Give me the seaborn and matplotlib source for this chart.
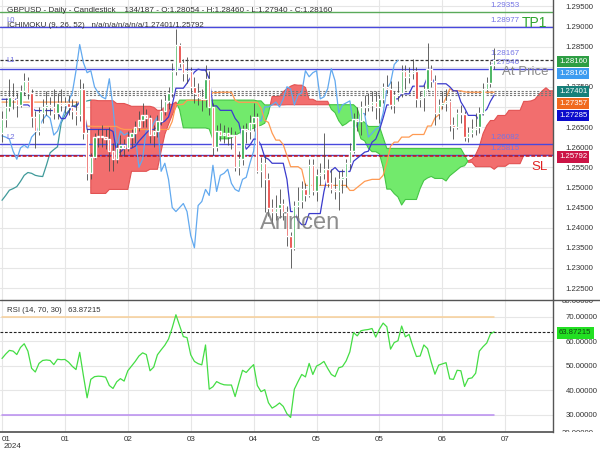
import numpy as np
import pandas as pd
import matplotlib
matplotlib.use("Agg")
import matplotlib.pyplot as plt
import seaborn as sns
from matplotlib.lines import Line2D
from matplotlib.transforms import Bbox

# ---------------- data ----------------
opens = [1.2635, 1.2670, 1.2700, 1.2725, 1.2720, 1.2705, 1.2740, 1.2765, 1.2735, 1.2675,
         1.2640, 1.2685, 1.2700, 1.2705, 1.2700, 1.2685, 1.2710, 1.2705, 1.2710, 1.2700,
         1.2690, 1.2680, 1.2745, 1.2635, 1.2535, 1.2575, 1.2625, 1.2628, 1.2625, 1.2620,
         1.2590, 1.2570, 1.2598, 1.2605, 1.2598, 1.2625, 1.2635, 1.2650, 1.2668, 1.2680,
         1.2672, 1.2630, 1.2640, 1.2665, 1.2690, 1.2715, 1.2735, 1.2790, 1.2855, 1.2810,
         1.2785, 1.2790, 1.2750, 1.2735, 1.2725, 1.2720, 1.2770, 1.2700, 1.2600, 1.2640,
         1.2630, 1.2635, 1.2628, 1.2630, 1.2550, 1.2570, 1.2645, 1.2640, 1.2660, 1.2675,
         1.2540, 1.2560, 1.2520, 1.2450, 1.2440, 1.2450, 1.2460, 1.2440, 1.2380, 1.2350,
         1.2455, 1.2465, 1.2495, 1.2480, 1.2555, 1.2490, 1.2530, 1.2535, 1.2545, 1.2510,
         1.2495, 1.2490, 1.2520, 1.2525, 1.2560, 1.2590, 1.2670, 1.2665, 1.2700, 1.2700,
         1.2705, 1.2712, 1.2700, 1.2720, 1.2750, 1.2745, 1.2705, 1.2730, 1.2735, 1.2790,
         1.2775, 1.2785, 1.2790, 1.2720, 1.2725, 1.2745, 1.2795, 1.2765, 1.2685, 1.2705,
         1.2710, 1.2715, 1.2655, 1.2650, 1.2685, 1.2683, 1.2625, 1.2635, 1.2645, 1.2650,
         1.2685, 1.2745, 1.2760, 1.28054]
closes = [1.2670, 1.2700, 1.2725, 1.2720, 1.2705, 1.2740, 1.2765, 1.2735, 1.2675, 1.2640,
          1.2685, 1.2700, 1.2705, 1.2700, 1.2685, 1.2710, 1.2705, 1.2710, 1.2700, 1.2690,
          1.2680, 1.2745, 1.2635, 1.2535, 1.2575, 1.2625, 1.2628, 1.2625, 1.2620, 1.2590,
          1.2570, 1.2598, 1.2605, 1.2598, 1.2625, 1.2635, 1.2650, 1.2668, 1.2680, 1.2672,
          1.2630, 1.2640, 1.2665, 1.2690, 1.2715, 1.2735, 1.2790, 1.2855, 1.2810, 1.2785,
          1.2790, 1.2750, 1.2735, 1.2725, 1.2720, 1.2770, 1.2700, 1.2600, 1.2640, 1.2630,
          1.2635, 1.2628, 1.2630, 1.2550, 1.2570, 1.2645, 1.2640, 1.2660, 1.2675, 1.2540,
          1.2560, 1.2520, 1.2450, 1.2440, 1.2450, 1.2460, 1.2440, 1.2380, 1.2350, 1.2455,
          1.2465, 1.2495, 1.2480, 1.2555, 1.2490, 1.2530, 1.2535, 1.2545, 1.2510, 1.2495,
          1.2490, 1.2520, 1.2525, 1.2560, 1.2590, 1.2670, 1.2665, 1.2700, 1.2700, 1.2705,
          1.2712, 1.2700, 1.2720, 1.2750, 1.2745, 1.2705, 1.2730, 1.2735, 1.2790, 1.2775,
          1.2785, 1.2790, 1.2720, 1.2725, 1.2745, 1.2795, 1.2765, 1.2685, 1.2705, 1.2710,
          1.2715, 1.2655, 1.2650, 1.2685, 1.2683, 1.2625, 1.2635, 1.2645, 1.2650, 1.2685,
          1.2745, 1.2760, 1.28054, 1.28160]
highs = [1.2690, 1.2722, 1.2770, 1.2760, 1.2735, 1.2755, 1.2785, 1.2775, 1.2745, 1.2690,
         1.2700, 1.2720, 1.2740, 1.2725, 1.2745, 1.2735, 1.2745, 1.2725, 1.2730, 1.2720,
         1.2715, 1.2770, 1.2760, 1.2645, 1.2585, 1.2635, 1.2645, 1.2655, 1.2645, 1.2650,
         1.2610, 1.2610, 1.2630, 1.2620, 1.2640, 1.2645, 1.2665, 1.2690, 1.2710, 1.2695,
         1.2680, 1.2655, 1.2680, 1.2720, 1.2730, 1.2750, 1.2810, 1.2893, 1.2860, 1.2820,
         1.2825, 1.2800, 1.2775, 1.2760, 1.2745, 1.2803, 1.2790, 1.2710, 1.2655, 1.2660,
         1.2655, 1.2650, 1.2650, 1.2640, 1.2590, 1.2655, 1.2660, 1.2680, 1.2710, 1.2685,
         1.2575, 1.2580, 1.2535, 1.2470, 1.2480, 1.2495, 1.2470, 1.2455, 1.2390, 1.2465,
         1.2500, 1.2515, 1.2510, 1.2570, 1.2570, 1.2545, 1.2560, 1.2634, 1.2570, 1.2545,
         1.2525, 1.2540, 1.2545, 1.2570, 1.2610, 1.2685, 1.2700, 1.2715, 1.2730, 1.2735,
         1.2740, 1.2740, 1.2730, 1.2760, 1.2780, 1.2765, 1.2740, 1.2765, 1.2805, 1.2805,
         1.2800, 1.2818, 1.2800, 1.2740, 1.2755, 1.2860, 1.2805, 1.2780, 1.2720, 1.2740,
         1.2745, 1.2720, 1.2675, 1.2695, 1.2705, 1.2690, 1.2650, 1.2670, 1.2685, 1.2700,
         1.2760, 1.2775, 1.2815, 1.28460]
lows = [1.2612, 1.2650, 1.2690, 1.2695, 1.2675, 1.2700, 1.2730, 1.2720, 1.2650, 1.2597,
        1.2630, 1.2660, 1.2680, 1.2680, 1.2670, 1.2670, 1.2690, 1.2685, 1.2680, 1.2670,
        1.2655, 1.2665, 1.2620, 1.2518, 1.2520, 1.2570, 1.2600, 1.2600, 1.2595, 1.2540,
        1.2540, 1.2560, 1.2580, 1.2578, 1.2590, 1.2600, 1.2610, 1.2640, 1.2650, 1.2650,
        1.2610, 1.2600, 1.2625, 1.2655, 1.2680, 1.2695, 1.2725, 1.2780, 1.2800, 1.2765,
        1.2760, 1.2735, 1.2710, 1.2705, 1.2690, 1.2700, 1.2680, 1.2580, 1.2590, 1.2615,
        1.2610, 1.2605, 1.2595, 1.2540, 1.2530, 1.2555, 1.2610, 1.2620, 1.2640, 1.2535,
        1.2500, 1.2440, 1.2430, 1.2410, 1.2420, 1.2425, 1.2420, 1.2355, 1.2300, 1.2345,
        1.2425, 1.2450, 1.2465, 1.2475, 1.2480, 1.2465, 1.2505, 1.2520, 1.2500, 1.2485,
        1.2470, 1.2445, 1.2485, 1.2500, 1.2545, 1.2585, 1.2640, 1.2630, 1.2680, 1.2690,
        1.2690, 1.2670, 1.2660, 1.2710, 1.2735, 1.2695, 1.2685, 1.2715, 1.2725, 1.2745,
        1.2760, 1.2770, 1.2700, 1.2700, 1.2690, 1.2740, 1.2750, 1.2655, 1.2670, 1.2695,
        1.2690, 1.2640, 1.2620, 1.2645, 1.2660, 1.2615, 1.2613, 1.2625, 1.2630, 1.2635,
        1.2680, 1.2740, 1.2750, 1.27940]
rsi_values = [53.0, 54.8, 56.3, 56.0, 54.6, 57.5, 59.0, 56.0, 49.0, 47.5,
              51.0, 52.2, 52.4, 52.2, 50.5, 52.7, 52.5, 52.6, 51.5, 49.8,
              48.5, 55.5, 46.0, 37.0, 44.5, 45.6, 45.8, 45.7, 45.4, 42.0,
              40.8, 43.5, 44.8, 43.8, 48.0, 49.9, 51.8, 54.0, 55.3, 54.6,
              48.0, 49.5, 54.5, 56.5, 58.4, 60.9, 65.5, 70.8, 66.4, 61.9,
              61.5, 54.5, 51.8, 50.9, 50.4, 58.5, 40.5, 41.5, 43.6, 42.8,
              42.3, 42.2, 42.2, 37.5, 43.0, 48.2, 47.3, 49.0, 50.5, 42.0,
              39.5, 40.3, 35.0, 32.8, 33.7, 34.9, 33.5, 30.5, 29.0, 40.5,
              43.6, 46.5, 45.5, 51.0, 46.5, 49.9, 50.7, 51.8, 49.0, 46.5,
              45.6, 49.2, 49.7, 52.0, 55.7, 63.5, 62.2, 64.3, 64.6, 64.8,
              65.2, 61.7, 65.0, 67.4, 65.9, 56.8, 59.5, 60.2, 66.2, 61.8,
              62.8, 58.0, 53.8, 54.0, 58.5, 57.0, 51.5, 46.6, 50.3, 50.8,
              51.3, 44.7, 44.5, 48.2, 48.0, 41.6, 44.8, 45.1, 47.0, 56.0,
              57.8, 59.3, 63.0, 63.87215]
# Ichimoku values at the start of the window (their history lies before the chart)
tenkan_head = [1.2719, 1.2719, 1.2719, 1.2719, 1.2719, 1.2705, 1.2705, 1.2705]
kijun_head = [1.2712] * 22 + [1.2691, 1.2652, 1.2652]
span_a_head = [1.2468, 1.2480, 1.2493, 1.2497, 1.2502, 1.2515, 1.2530, 1.2537, 1.2535, 1.2530,
               1.2528, 1.2527, 1.2555, 1.2586, 1.2594, 1.2601, 1.2660, 1.2680, 1.2690, 1.2700,
               1.2705, 1.2710, 1.2712, 1.2715, 1.2717, 1.2717]
span_b_head = ([1.2485] * 5 + [1.2495] * 6 + [1.2540] * 5 + [1.2545] * 3 +
               [1.2590, 1.2632, 1.2657, 1.2680, 1.2700] + [1.2717] * 21 +
               [1.2715] * 2 + [1.2705] * 6)          # bars 24..76
date_ticks = [0, 17, 34, 51, 68, 85, 102, 119, 136]
date_labels = ["01", "01", "02", "03", "04", "05", "05", "06", "07"]
year_label = "2024"
price_ticks = [1.225, 1.230, 1.235, 1.240, 1.245, 1.250, 1.255, 1.260, 1.265,
               1.270, 1.275, 1.280, 1.285, 1.290, 1.295]
hidden_price_labels = [1.270, 1.280]     # covered by the value boxes in the reference
rsi_ticks = [30, 40, 50, 60, 70]
level_lines = {"1.29353": 1.29353, "1.28977": 1.28977, "1.28167": 1.28167,
               "1.27946": 1.27946, "1.26082": 1.26082, "1.25815": 1.25815}
ichi_current = [1.27401, 1.27357, 1.27285]
sl_value = 1.25792
last_price = 1.28160
last_rsi = 63.87215

# ---------------- derived indicator lines ----------------
O = np.array(opens); C = np.array(closes); Hh = np.array(highs); Ll = np.array(lows)
n = len(C)
idx = np.arange(n)
tenkan = np.array([tenkan_head[i] if i < 8 else (Hh[i-8:i+1].max() + Ll[i-8:i+1].min()) / 2 for i in idx])
kijun = np.array([kijun_head[i] if i < 25 else (Hh[i-25:i+1].max() + Ll[i-25:i+1].min()) / 2 for i in idx])
span_a = np.full(n + 26, np.nan)
span_a[:26] = span_a_head
span_a[26:] = (tenkan + kijun) / 2
span_b = np.full(n + 26, np.nan)
span_b[24:77] = span_b_head
for j in range(51, n):
    span_b[j + 26] = (Hh[j-51:j+1].max() + Ll[j-51:j+1].min()) / 2
chikou_x = idx[:n-26]
chikou_y = C[26:]

# ---------------- figure ----------------
W, H = 600, 450
sns.set_theme(style="white")
plt.rcParams["font.family"] = ["Liberation Sans", "DejaVu Sans"]
fig = plt.figure(figsize=(6, 4.5), dpi=100)
ax = fig.add_axes([0, 1 - 300 / H, 553 / W, 300 / H])
axr = fig.add_axes([0, 1 - 432 / H, 553 / W, 132 / H])
XL = (-0.54, 148.9)
for a in (ax, axr):
    a.set_xlim(*XL)
    a.set_facecolor("white")
    for s in ("top", "left"):
        a.spines[s].set_visible(False)
    a.spines["right"].set_color("#555555")
    a.spines["right"].set_linewidth(1.0)
    a.set_xticks(date_ticks)
    a.grid(True, color="#e6e6e6", linewidth=0.8)
    a.set_axisbelow(True)
    a.yaxis.tick_right()
    a.tick_params(axis="both", length=0, labelsize=5.6, labelcolor="#333333")
ax.spines["bottom"].set_visible(False)
ax.set_xticklabels([])
axr.spines["bottom"].set_color("#555555")
axr.set_xticklabels(date_labels)
axr.tick_params(axis="x", pad=3, labelsize=5.8)
first = axr.get_xticklabels()[0]
first.set_horizontalalignment("left")

ax.set_ylim(1.22202, 1.29657)
ax.set_yticks(price_ticks)
ax.set_yticklabels(["" if any(abs(v - h) < 1e-9 for h in hidden_price_labels) else f"{v:.5f}"
                    for v in price_ticks])
ax.tick_params(axis="y", pad=9)

# cloud
cx = np.arange(n + 26)
ok = ~np.isnan(span_b)
ax.fill_between(cx[ok], span_a[ok], span_b[ok], where=span_a[ok] >= span_b[ok], interpolate=True,
                color="#f26e6e", edgecolor="#e25252", linewidth=0.8, zorder=1.2)
ax.fill_between(cx[ok], span_a[ok], span_b[ok], where=span_a[ok] < span_b[ok], interpolate=True,
                color="#72ea6c", edgecolor="#45c545", linewidth=0.8, zorder=1.2)
sns.lineplot(x=cx[:25], y=span_a[:25], ax=ax, color="#3f9a9a", linewidth=0.9, zorder=1.3)

# level lines
for txt, v in level_lines.items():
    if txt == "1.28167":
        ax.axhline(v, color="#333333", linewidth=0.9, linestyle=(0, (2.5, 1.5)), zorder=1.5)
    elif txt == "1.29353":
        ax.axhline(v, color="#5aaa5a", linewidth=1.0, zorder=1.5)
    else:
        ax.axhline(v, color="#4848dd", linewidth=1.0, zorder=1.5)
    ax.annotate(txt, xy=(490 / 553, v), xycoords=("axes fraction", "data"),
                xytext=(0, 2.2), textcoords="offset points", fontsize=5.8,
                color="#7474e6", va="bottom", ha="left", zorder=1.6)
for v in ichi_current:
    ax.axhline(v, color="#777777", linewidth=0.8, linestyle=(0, (2, 1.5)), zorder=1.5)
ax.axhline(sl_value, color="#cc1111", linewidth=1.1, linestyle=(0, (2.5, 1.2)), zorder=1.6)

# lines
sns.lineplot(x=chikou_x, y=chikou_y, ax=ax, color="#62a9ef", linewidth=0.9, zorder=2)
sns.lineplot(x=idx, y=kijun, ax=ax, color="#ff9a52", linewidth=0.9, zorder=2.1)
sns.lineplot(x=idx, y=tenkan, ax=ax, color="#3b3bcc", linewidth=0.9, zorder=2.2)

# candles
up = C >= O
ax.vlines(idx, Ll, Hh, color="#4a4a4a", linewidth=0.6, zorder=3)
body = np.where(np.abs(C - O) < 0.00015, 0.00015, C - O)
ax.bar(idx[up], body[up], bottom=O[up], width=0.62, color="#28a745", zorder=3.1)
ax.bar(idx[~up], body[~up], bottom=O[~up], width=0.62, color="#e53935", zorder=3.1)

# texts in main panel
def fig_xy(px, py):
    return px / W, 1 - py / H

ax.text(300 / 553, 1 - 223 / 300, "Arincen", transform=ax.transAxes, ha="center", va="center",
        fontsize=17, color="#7a7a7a", alpha=0.85, zorder=4)
fig.text(*fig_xy(7, 10.5), "GBPUSD - Daily - Candlestick    134/187 - O:1.28054 - H:1.28460 - L:1.27940 - C:1.28160",
         fontsize=5.9, color="#333333", va="center", ha="left", zorder=5)
fig.text(*fig_xy(7, 25.5), "ICHIMOKU (9, 26, 52)   n/a/n/a/n/a/n/a/1.27401/1.25792",
         fontsize=5.7, color="#333333", va="center", ha="left", zorder=5)
for lab, py in (("L0", 20), ("L1", 61), ("L2", 137)):
    fig.text(*fig_xy(6, py), lab, fontsize=5.5, color="#7070e0", va="center", ha="left", zorder=5)
fig.text(*fig_xy(547, 23), "TP1", fontsize=10, color="#2ea52e", va="center", ha="right", zorder=5)
fig.text(*fig_xy(548, 72), "At Price", fontsize=9.5, color="#8a8a8a", va="center", ha="right", zorder=5)
fig.text(*fig_xy(548, 167), "SL", fontsize=9.5, color="#e02222", va="center", ha="right", zorder=5)
fig.text(*fig_xy(4, 447), year_label, fontsize=5.8, color="#333333", va="center", ha="left", zorder=5)

# value boxes
boxes = [(f"{last_price:.5f}", 61.5, "#2e9e44", "white"),
         (f"{last_price:.5f}", 73.5, "#3d9cf0", "white"),
         (f"{ichi_current[0]:.5f}", 91.5, "#17807a", "white"),
         (f"{ichi_current[1]:.5f}", 103.5, "#f06a1e", "white"),
         (f"{ichi_current[2]:.5f}", 115.5, "#0b0bcc", "white"),
         (f"{sl_value:.5f}", 157.0, "#cc1446", "white"),
         (f"{last_rsi:.5f}", 333.0, "#22e022", "#114411")]
for txt, py, bg, fg in boxes:
    fig.text(*fig_xy(559, py), txt, fontsize=5.6, color=fg, va="center", ha="left", zorder=6,
             bbox=dict(boxstyle="square,pad=0.28", facecolor=bg, edgecolor="none"))

# RSI panel
axr.set_ylim(23.08, 76.8)
axr.set_yticks(rsi_ticks)
axr.set_yticklabels([f"{v:.5f}" for v in rsi_ticks])
axr.tick_params(axis="y", pad=9)
axr.plot(idx, np.full(n, 70.0), color="#f7cf98", linewidth=1.1, zorder=1.5)
axr.plot(idx, np.full(n, 30.0), color="#b98cf0", linewidth=1.1, zorder=1.5)
axr.axhline(last_rsi, color="#222222", linewidth=0.8, linestyle=(0, (2.5, 1.5)), zorder=1.6)
sns.lineplot(x=idx, y=rsi_values, ax=axr, color="#44dd44", linewidth=0.9, zorder=2)
fig.text(*fig_xy(7, 311), f"RSI (14, 70, 30)   {last_rsi:.5f}", fontsize=5.6, color="#333333",
         va="center", ha="left", zorder=5)
clip = Bbox.from_extents(553, H - 432, W, H - 301)
for lab, py in (("80.00000", 301.5), ("20.00000", 433.5)):
    t = fig.text(*fig_xy(562, py), lab, fontsize=5.6, color="#333333", va="center", ha="left", zorder=5)
    t.set_clip_box(clip)
    t.set_clip_on(True)

# frame lines
fig.add_artist(Line2D([0, 1], [1 - 300 / H, 1 - 300 / H], color="#555555", linewidth=1.0))

fig.savefig("out.png", dpi=100)
